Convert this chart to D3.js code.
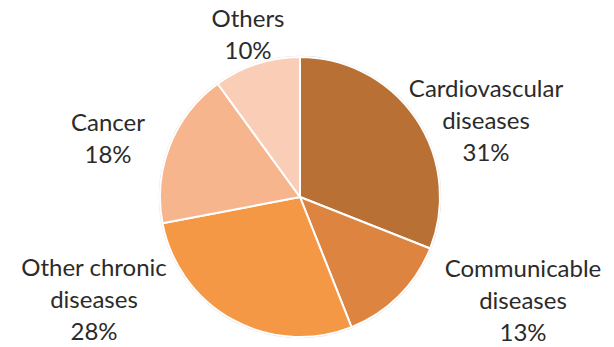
<!DOCTYPE html>
<html>
<head>
<meta charset="utf-8">
<script src="https://cdn.jsdelivr.net/npm/d3@7"></script>
<style>
  body { margin: 0; background: #fff; }
  svg { display: block; }
  text { font-family: Lato, "Open Sans", sans-serif; fill: #2b2b2b; }
</style>
</head>
<body>
<div id="viz"></div>
<script>
var width = 614,
    height = 347;

// data
var categories = ["Cardiovascular diseases", "Communicable diseases", "Other chronic diseases", "Cancer", "Others"];
var values = [31, 13, 28, 18, 10];
var labelLines = [["Cardiovascular", "diseases"], ["Communicable", "diseases"], ["Other chronic", "diseases"], ["Cancer"], ["Others"]];

var colors = ["#b97034", "#dc8440", "#f59846", "#f7b58e", "#facdb7"];

// pie geometry
var cx = 300, cy = 197, radius = 140;

// where excel put each label (center x, first baseline) relative to pie center
var labelOffsets = [[186, -100], [223, 80], [-206, 79], [-192, -66], [-52, -170]];
var lineHeight = 32;

var svg = d3.select("#viz").append("svg")
    .attr("width", width)
    .attr("height", height);

var g = svg.append("g")
    .attr("transform", "translate(" + cx + "," + cy + ")");

var pie = d3.pie().sort(null).value(function(d) { return d; });
var arc = d3.arc().innerRadius(0).outerRadius(radius);

var arcs = pie(values);

// faint outer edge
g.append("circle")
    .attr("r", radius + 0.5)
    .attr("fill", "none")
    .attr("stroke", "#d9d9d9")
    .attr("stroke-width", 1.5);

g.selectAll("path.slice")
    .data(arcs)
    .enter().append("path")
    .attr("class", "slice")
    .attr("d", arc)
    .attr("fill", function(d, i) { return colors[i]; })
    .attr("stroke", "#fff")
    .attr("stroke-width", 2)
    .attr("stroke-linejoin", "round");

var labels = g.selectAll("text.label")
    .data(arcs)
    .enter().append("text")
    .attr("class", "label")
    .attr("text-anchor", "middle")
    .attr("font-size", 24)
    .attr("transform", function(d, i) {
        return "translate(" + labelOffsets[i][0] + "," + labelOffsets[i][1] + ")";
    });

labels.each(function(d, i) {
    var t = d3.select(this);
    var lines = labelLines[i].concat([values[i] + "%"]);
    lines.forEach(function(line, j) {
        t.append("tspan")
            .attr("x", 0)
            .attr("y", j * lineHeight)
            .text(line);
    });
});
</script>
</body>
</html>
